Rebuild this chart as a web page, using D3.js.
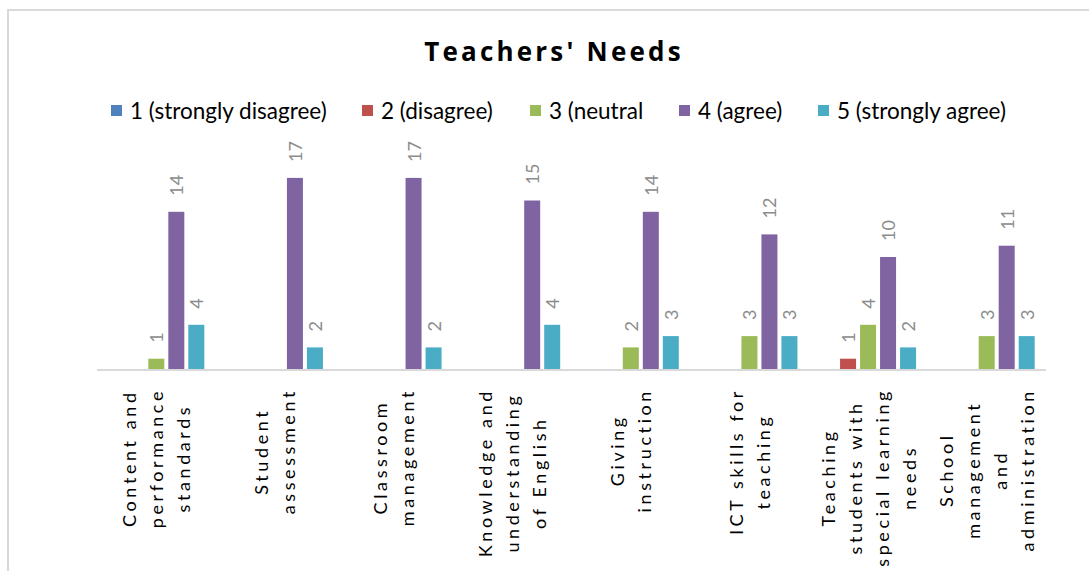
<!DOCTYPE html>
<html>
<head>
<meta charset="utf-8">
<script src="https://cdn.jsdelivr.net/npm/d3@7"></script>
<style>
  body { margin: 0; background: #fff; }
  svg { display: block; font-family: Lato, "Open Sans", sans-serif; }
</style>
</head>
<body>
<svg id="chart"></svg>
<script>
// categories, wrapped the way the labels show them
var categoryLines = [
  ["Content and", "performance", "standards"],
  ["Student", "assessment"],
  ["Classroom", "management"],
  ["Knowledge and", "understanding", "of English"],
  ["Giving", "instruction"],
  ["ICT skills for", "teaching"],
  ["Teaching", "students with", "special learning", "needs"],
  ["School", "management", "and", "administration"]
];
var seriesNames = ["1 (strongly disagree)", "2 (disagree)", "3 (neutral", "4 (agree)", "5 (strongly agree)"];
var seriesColors = ["#4f81bd", "#c0504d", "#9bbb59", "#8064a2", "#4bacc6"];

var stronglyDisagree = [0, 0, 0, 0, 0, 0, 0, 0];
var disagree         = [0, 0, 0, 0, 0, 0, 1, 0];
var neutral          = [1, 0, 0, 0, 2, 3, 4, 3];
var agree            = [14, 17, 17, 15, 14, 12, 10, 11];
var stronglyAgree    = [4, 2, 2, 4, 3, 3, 2, 3];
var seriesValues = [stronglyDisagree, disagree, neutral, agree, stronglyAgree];

var width = 1089, height = 571;
var plot = {left: 97, right: 1046, base: 370};

var svg = d3.select("#chart")
    .attr("width", width)
    .attr("height", height);

svg.append("rect")
    .attr("width", width).attr("height", height)
    .attr("fill", "#fff");

// outer chart border (right/bottom fall outside the view)
svg.append("rect")
    .attr("x", 8).attr("y", 10)
    .attr("width", 1200).attr("height", 700)
    .attr("fill", "none")
    .attr("stroke", "#d9d9d9")
    .attr("stroke-width", 2);

svg.append("text")
    .attr("x", 554).attr("y", 61)
    .attr("text-anchor", "middle")
    .style("font-family", "'Open Sans', sans-serif")
    .style("font-weight", "bold")
    .style("font-size", "26px")
    .style("letter-spacing", "3.2px")
    .text("Teachers' Needs");

// legend
var legendX = [111, 362, 530, 679, 818];
var legend = svg.append("g");
seriesNames.forEach(function(name, i) {
    legend.append("rect")
        .attr("x", legendX[i]).attr("y", 105)
        .attr("width", 11).attr("height", 11)
        .attr("fill", seriesColors[i]);
    legend.append("text")
        .attr("x", legendX[i] + 19).attr("y", 119)
        .style("font-size", "22.5px")
        .attr("fill", "#000")
        .text(name);
});

var x0 = d3.scaleBand()
    .domain(d3.range(categoryLines.length))
    .range([plot.left, plot.right]);

var x1 = d3.scaleBand()
    .domain(d3.range(seriesNames.length))
    .range([x0.bandwidth() / 2 - 48, x0.bandwidth() / 2 + 48])
    .paddingInner(0.2);

var y = d3.scaleLinear()
    .domain([0, 18])
    .range([plot.base, plot.base - 18 * 11.3]);

var groups = svg.selectAll("g.cat")
    .data(categoryLines)
  .enter().append("g")
    .attr("class", "cat")
    .attr("transform", function(d, i) { return "translate(" + x0(i) + ",0)"; });

groups.each(function(d, ci) {
    var g = d3.select(this);
    var vals = seriesValues.map(function(s, si) { return {s: si, v: s[ci]}; })
        .filter(function(e) { return e.v > 0; });

    g.selectAll("rect")
        .data(vals)
      .enter().append("rect")
        .attr("x", function(e) { return x1(e.s); })
        .attr("y", function(e) { return y(e.v); })
        .attr("width", x1.bandwidth())
        .attr("height", function(e) { return y(0) - y(e.v); })
        .attr("fill", function(e) { return seriesColors[e.s]; });

    g.selectAll("text.val")
        .data(vals)
      .enter().append("text")
        .attr("class", "val")
        .attr("transform", function(e) {
            return "translate(" + (x1(e.s) + x1.bandwidth() / 2) + "," + (y(e.v) - 16) + ") rotate(-90)";
        })
        .attr("dominant-baseline", "central")
        .style("font-size", "18px")
        .attr("fill", "#8c8c8c")
        .text(function(e) { return e.v; });
});

// baseline
svg.append("line")
    .attr("x1", plot.left).attr("x2", plot.right)
    .attr("y1", plot.base).attr("y2", plot.base)
    .attr("stroke", "#d9d9d9")
    .attr("stroke-width", 2);

// category labels, rotated, top aligned below axis
var lineStep = 27, labelTop = 388;
categoryLines.forEach(function(lines, ci) {
    var cx = x0(ci) + x0.bandwidth() / 2;
    var g = svg.append("g");
    var texts = lines.map(function(t, li) {
        return g.append("text")
            .attr("text-anchor", "middle")
            .attr("dominant-baseline", "central")
            .style("font-size", "18px")
            .style("letter-spacing", "3.6px")
            .attr("fill", "#000")
            .text(t);
    });
    var maxLen = d3.max(texts, function(t) { return t.node().getComputedTextLength(); });
    texts.forEach(function(t, li) {
        var off = (li - (lines.length - 1) / 2) * lineStep;
        t.attr("transform", "translate(" + (cx + off) + "," + (labelTop + maxLen / 2) + ") rotate(-90)");
    });
});
</script>
</body>
</html>
